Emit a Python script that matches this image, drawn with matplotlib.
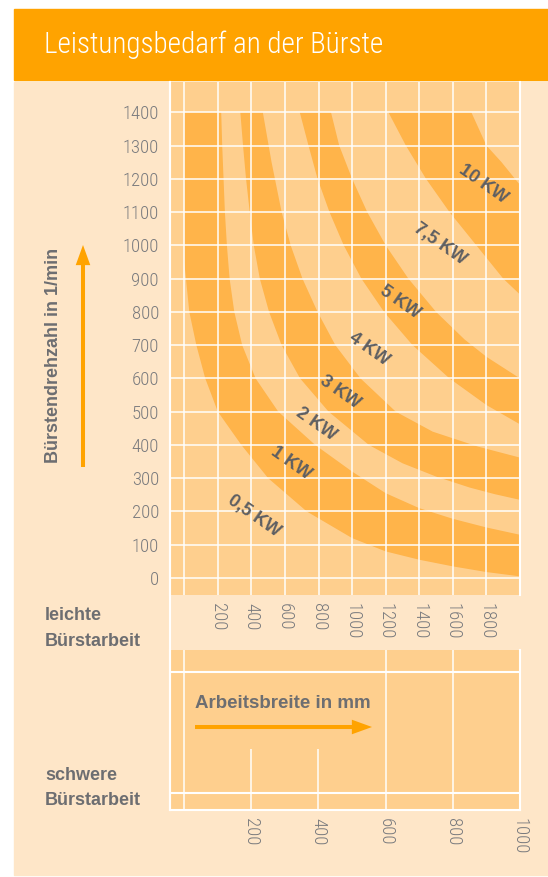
import numpy as np
import matplotlib
matplotlib.use("Agg")
import matplotlib.pyplot as plt
from matplotlib.lines import Line2D
from matplotlib.patches import Rectangle, FancyArrowPatch

W, H = 548, 877  # output size in px

THIN = ['Roboto Condensed', 'Roboto', 'DejaVu Sans']
BOLD = ['Liberation Sans', 'DejaVu Sans']
plt.rcParams['font.family'] = THIN

ORANGE = '#FFA300'
PANEL = '#FEE6C8'
LIGHT = '#FECF8E'
DARK = '#FFB44A'
GREY = '#7A7B7E'
TEXT = '#6D6E71'
KWCOL = '#5E5F62'

# --- data -------------------------------------------------------------
rpm_ticks = [0, 100, 200, 300, 400, 500, 600, 700, 800, 900, 1000, 1100, 1200, 1300, 1400]
width_light = [200, 400, 600, 800, 1000, 1200, 1400, 1600, 1800]   # leichte Buerstarbeit (mm)
width_heavy = [200, 400, 600, 800, 1000]                            # schwere Buerstarbeit (mm)

# boundary curves between the power bands (width mm, rpm)
b05_w = [0, 0, 10, 30, 72, 125, 200, 340, 500, 730, 1000, 1200, 1400, 1600, 1800, 2000]
b05_n = [1400, 950, 900, 800, 700, 600, 500, 400, 300, 200, 120, 80, 55, 35, 18, 5]
b1_w = [220, 226, 234, 242, 254, 270, 298, 345, 425, 560, 780, 1000, 1200, 1400, 1600, 1800, 2000]
b1_n = [1400, 1300, 1200, 1100, 1000, 900, 800, 700, 600, 500, 400, 320, 255, 210, 178, 152, 130]
b2_w = [334, 350, 368, 390, 414, 450, 505, 580, 690, 860, 1100, 1300, 1500, 1700, 1850, 2000]
b2_n = [1400, 1300, 1200, 1100, 1000, 900, 800, 700, 600, 500, 400, 345, 305, 272, 252, 235]
b3_w = [468, 520, 580, 634, 704, 794, 900, 1050, 1260, 1480, 1750, 2000]
b3_n = [1400, 1250, 1100, 1000, 900, 800, 700, 600, 500, 440, 395, 362]
b4_w = [688, 740, 794, 865, 950, 1055, 1190, 1360, 1580, 1800, 2000]
b4_n = [1400, 1300, 1200, 1100, 1000, 900, 800, 700, 600, 520, 462]
b5_w = [874, 923, 1000, 1090, 1200, 1335, 1500, 1670, 1800, 2000]
b5_n = [1400, 1300, 1200, 1100, 1000, 900, 800, 717, 665, 600]
b75_w = [1216, 1320, 1440, 1580, 1740, 1900, 2000]
b75_n = [1400, 1300, 1200, 1100, 1000, 900, 852]
b10_w = [1710, 1800, 1890, 1970, 2000]
b10_n = [1400, 1300, 1250, 1200, 1182]

# dark bands = (lower curve, upper curve)
dark_bands = [((b05_w, b05_n), (b1_w, b1_n)),
              ((b2_w, b2_n), (b3_w, b3_n)),
              ((b4_w, b4_n), (b5_w, b5_n)),
              ((b75_w, b75_n), (b10_w, b10_n))]

kw_labels = ['0,5 KW', '1 KW', '2 KW', '3 KW', '4 KW', '5 KW', '7,5 KW', '10 KW']
kw_w = [417, 637, 784, 929, 1101, 1287, 1524, 1780]
kw_n = [187, 346, 461, 560, 687, 828, 1003, 1184]


def fx(px):
    return px / W


def fy(py):
    return 1 - py / H


fig = plt.figure(figsize=(W / 100, H / 100), dpi=100)
fig.patch.set_facecolor('white')

# background panel + header
fig.add_artist(Rectangle((fx(14), fy(875)), (W - 14) / W, (875 - 82) / H,
                         transform=fig.transFigure, color=PANEL, zorder=0))
fig.add_artist(Rectangle((fx(14), fy(80)), (W - 14) / W, (80 - 9) / H,
                         transform=fig.transFigure, color=ORANGE, zorder=0))
fig.text(fx(44), fy(45), 'Leistungsbedarf an der Bürste', color='white',
         fontsize=21, fontweight='light', va='center', ha='left')

# --- main chart -------------------------------------------------------
ax = fig.add_axes([fx(170), fy(595), (520 - 170) / W, (595 - 82) / H])
ax.set_facecolor(LIGHT)
ax.set_xlim(-85, 2000)
ax.set_ylim(-51, 1491)

for (lw_, ln_), (uw_, un_) in dark_bands:
    xs = np.concatenate([lw_, uw_[::-1]])
    ys = np.concatenate([ln_, un_[::-1]])
    ax.fill(xs, ys, color=DARK, lw=0, zorder=1)

ax.vlines([0] + width_light, -51, 1491, color='white', lw=1.2, alpha=0.9, zorder=2)
ax.hlines(rpm_ticks, -85, 2000, color='white', lw=1.2, alpha=0.9, zorder=2)

for lab, w, n in zip(kw_labels, kw_w, kw_n):
    ax.text(w, n, lab, rotation=-35, rotation_mode='anchor', ha='center', va='center',
            fontsize=13, fontweight='bold', color=KWCOL, family=BOLD, zorder=3)

ax.set_yticks(rpm_ticks)
ax.set_yticklabels([str(v) for v in rpm_ticks], fontweight='light')
ax.set_xticks(width_light)
ax.set_xticklabels([str(v) for v in width_light], rotation=270, fontweight='light')
ax.tick_params(axis='y', length=0, pad=8, labelsize=13.5, labelcolor=GREY)
ax.tick_params(axis='x', length=0, pad=6, labelsize=13.5, labelcolor=GREY)
for s in ['top', 'bottom']:
    ax.spines[s].set_visible(False)
for s in ['left', 'right']:
    ax.spines[s].set_color('white')
    ax.spines[s].set_linewidth(1.5)

# --- lower strip (schwere Buerstarbeit) -------------------------------
ax2 = fig.add_axes([fx(170), fy(810), (520 - 170) / W, (810 - 650) / H])
ax2.set_facecolor(LIGHT)
ax2.set_xlim(-41.7, 1000)
ax2.set_ylim(0, 1)
ax2.vlines([0, 600, 800], 0, 1, color='white', lw=1.2, alpha=0.9)
ax2.vlines([200, 400], 0, 0.38, color='white', lw=1.2, alpha=0.9)
ax2.hlines([0.106, 0.8625], -41.7, 1000, color='white', lw=1.5)
ax2.set_yticks([])
ax2.set_xticks(width_heavy)
ax2.set_xticklabels([str(v) for v in width_heavy], rotation=270, fontweight='light')
ax2.tick_params(axis='x', length=0, pad=6, labelsize=13.5, labelcolor=GREY)
ax2.spines['top'].set_visible(False)
for s in ['left', 'right', 'bottom']:
    ax2.spines[s].set_color('white')
    ax2.spines[s].set_linewidth(1.5)

# white rule down the left edge, through the gap
fig.add_artist(Line2D([fx(170), fx(170)], [fy(82), fy(810)], color='white', lw=1.5,
                      transform=fig.transFigure))

# --- axis captions & arrows ------------------------------------------
fig.text(fx(53), fy(355), 'Bürstendrehzahl in 1/min', rotation=90, ha='center', va='center',
         fontsize=13, fontweight='bold', color=TEXT, family=BOLD)
fig.add_artist(FancyArrowPatch((fx(83), fy(467)), (fx(83), fy(245)), transform=fig.transFigure,
                               arrowstyle='simple,head_length=14.5,head_width=10.5,tail_width=2.9',
                               mutation_scale=1, shrinkA=0, shrinkB=0, color=ORANGE, lw=0))

fig.text(fx(195), fy(704), 'Arbeitsbreite in mm', ha='left', va='center',
         fontsize=13.5, fontweight='bold', color=TEXT, family=BOLD)
fig.add_artist(FancyArrowPatch((fx(195), fy(727)), (fx(372), fy(727)), transform=fig.transFigure,
                               arrowstyle='simple,head_length=14.5,head_width=10.5,tail_width=2.9',
                               mutation_scale=1, shrinkA=0, shrinkB=0, color=ORANGE, lw=0))

for txt, y in [('leichte', 620), ('Bürstarbeit', 646), ('schwere', 780), ('Bürstarbeit', 805)]:
    fig.text(fx(45), fy(y), txt, ha='left', va='baseline', fontsize=13,
             fontweight='bold', color=TEXT, family=BOLD)

fig.savefig('out.png', dpi=100, facecolor='white')
